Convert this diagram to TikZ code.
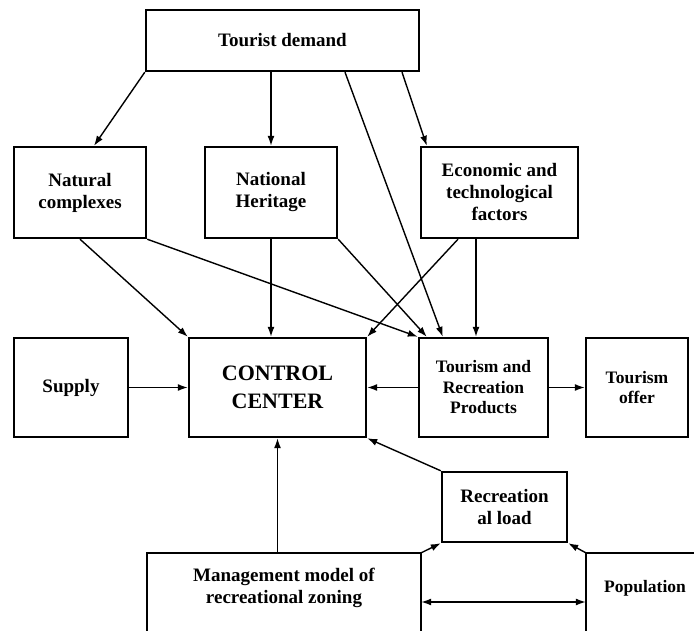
\documentclass[tikz,border=0pt]{standalone}
\usepackage{fontspec}
\setmainfont{Liberation Serif}
\usetikzlibrary{arrows.meta}

\begin{document}
\begin{tikzpicture}[x=1pt,y=1pt]
\tikzset{frame/.style={line width=2.4pt},
         box/.style={draw, frame, inner sep=0pt, align=center, font=\fontsize{19}{22}\selectfont\bfseries},
         smallbox/.style={box, font=\fontsize{17.5}{20.5}\selectfont\bfseries},
         link/.style={line width=1.4pt, -{Latex[length=10pt,width=7pt]}}}
\useasboundingbox (0,0) rectangle (694,-631);
\clip (0,0) rectangle (694,-631);
% sources
\node[box, minimum width=273pt, minimum height=61pt] (demand) at (282.5,-40.5) {Tourist demand};
\node[box, minimum width=132pt, minimum height=91pt] (natural) at (80,-192.5) {Natural\\complexes};
\node[box, minimum width=132pt, minimum height=91pt] (heritage) at (271,-192.5) {National\\Heritage};
\node[box, minimum width=157pt, minimum height=91pt] (econ) at (499.5,-192.5) {Economic and\\technological\\factors};
% middle row
\node[box, minimum width=114pt, minimum height=99pt] (supply) at (71,-387.5) {Supply};
\node[box, minimum width=177pt, minimum height=99pt, font=\fontsize{22}{28}\selectfont\bfseries] (control) at (277.5,-387.5) {CONTROL\\CENTER};
\node[smallbox, minimum width=129pt, minimum height=99pt] (products) at (483.5,-387.5) {Tourism and\\Recreation\\Products};
\node[smallbox, minimum width=102pt, minimum height=99pt] (offer) at (637,-387.5) {Tourism\\offer};
% bottom
\node[box, minimum width=125pt, minimum height=70pt] (load) at (504.5,-507) {Recreation\\al load};
\node[box, draw=none, minimum width=272pt, minimum height=68pt] (mgmt) at (284,-588) {Management model of\\recreational zoning};
\node[smallbox, draw=none, minimum width=116pt, minimum height=68pt] (population) at (645,-588) {Population};
\draw[frame] ([yshift=-30pt]mgmt.south west) |- (mgmt.north east) -- ++(0,-98);
\draw[frame] ([yshift=-30pt]population.south west) |- ([xshift=20pt]population.north east);

\draw[link] (demand.south west) -- ([xshift=14pt]natural.north);
\draw[link] (demand.south -| heritage.north) -- (heritage.north);
\draw[link] ([xshift=62.5pt]demand.south) -- ([xshift=25pt]products.north west);
\draw[link] ([xshift=119.5pt]demand.south) -- ([xshift=7pt]econ.north west);
\draw[link] (natural.south) -- (control.north west);
\draw[link] (natural.south east) -- (products.north west);
\draw[link] (heritage.south) -- (heritage.south |- control.north);
\draw[link] (heritage.south east) -- ([xshift=9pt]products.north west);
\draw[link] ([xshift=-41.5pt]econ.south) -- (control.north east);
\draw[link] ([xshift=-23.5pt]econ.south) -- ([xshift=-23.5pt]econ.south |- products.north);
\draw[link] (supply) -- (control);
\draw[link] (products) -- (control);
\draw[link] (products) -- (offer);
\draw[link] (load.north west) -- (control.south east);
\draw[link] (control.south |- mgmt.north) -- (control.south);
\draw[link] (mgmt.north east) -- (load.south west);
\draw[link] (population.north west) -- (load.south east);
\draw[link, {Latex[length=10pt,width=7pt]}-{Latex[length=10pt,width=7pt]}] ([yshift=-14pt]mgmt.east) -- ([yshift=-14pt]population.west);
\end{tikzpicture}
\end{document}
